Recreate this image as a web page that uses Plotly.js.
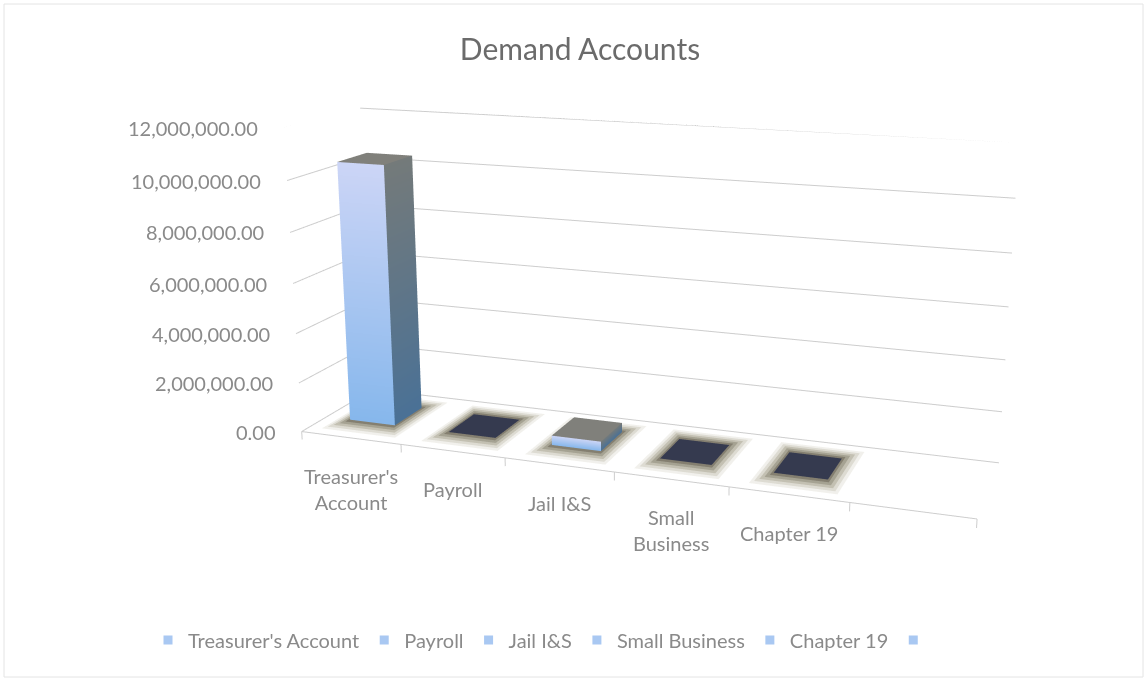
<!DOCTYPE html>
<html>
<head>
<meta charset="utf-8">
<script src="https://cdn.plot.ly/plotly-3.0.1.min.js"></script>
<style>
html,body{margin:0;padding:0;width:1147px;height:680px;overflow:hidden;background:#fff}
#chart{position:absolute;left:0;top:-347px;width:1280px;height:1305px}
</style>
</head>
<body>
<div id="chart"></div>
<script>
const categories = ["Treasurer's Account", "Payroll", "Jail I&S", "Small Business", "Chapter 19"];
const categoryLabels = ["Treasurer's<br>Account", "Payroll", "Jail I&S", "Small<br>Business", "Chapter 19"];
const values = [10500000, 0, 450000, 0, 0];
const tickValues = [0, 2000000, 4000000, 6000000, 8000000, 10000000, 12000000];
const tickLabels = ["0.00", "2,000,000.00", "4,000,000.00", "6,000,000.00", "8,000,000.00", "10,000,000.00", "12,000,000.00"];
const legendNames = ["Treasurer's Account", "Payroll", "Jail I&S", "Small Business", "Chapter 19", " "];

const W = 1280, H = 1305, TOP = 347;
const px = x => x / W;
const py = y => 1 - (y + TOP) / H;

const slotCount = 6;
const gridColor = '#cdcdcd';
const textColor = '#8a8a8a';
const font = 'Lato, "Open Sans", sans-serif';
const ringColors = ['#f1f0ec', '#dddbd2', '#c3c0b2', '#a5a292', '#847f70'];
const ringHalfX = [0.37, 0.34, 0.31, 0.28, 0.25];
const ringHalfY = [0.40, 0.36, 0.32, 0.28, 0.24];
const zStep = 12000;
const barHalfX = 0.23, barHalfY = 0.2;

function meshOf(quads, name) {
  const m = {type: 'mesh3d', name, x: [], y: [], z: [], i: [], j: [], k: [], vertexcolor: [],
    flatshading: true, hoverinfo: 'skip', showlegend: false, showscale: false,
    lighting: {ambient: 1, diffuse: 0, specular: 0, roughness: 1, fresnel: 0}};
  quads.forEach(q => {
    const b = m.x.length;
    q.forEach(v => { m.x.push(v[0]); m.y.push(v[1]); m.z.push(v[2]); m.vertexcolor.push(v[3]); });
    m.i.push(b, b); m.j.push(b + 1, b + 2); m.k.push(b + 2, b + 3);
  });
  return m;
}

const traces = [];

// walls and floor lines
const lx = [], ly = [], lz = [];
tickValues.forEach(t => { lx.push(0, 0, slotCount, null); ly.push(0, 1, 1, null); lz.push(t, t, t, null); });
lx.push(0, slotCount, null); ly.push(0, 0, null); lz.push(0, 0, null);
for (let s = 0; s <= slotCount; s++) { lx.push(s, s, null); ly.push(0, 0, null); lz.push(0, -330000, null); }
traces.push({type: 'scatter3d', mode: 'lines', x: lx, y: ly, z: lz, connectgaps: false,
  line: {color: gridColor, width: 2}, hoverinfo: 'skip', showlegend: false});

// bars with their soft floor shadow
categories.forEach((name, n) => {
  const c = n + 0.5, yc = 0.5, quads = [];
  ringColors.forEach((col, r) => {
    const hx = ringHalfX[r], hy = ringHalfY[r], z = zStep * (r + 1);
    quads.push([[c - hx, yc - hy, z, col], [c + hx, yc - hy, z, col], [c + hx, yc + hy, z, col], [c - hx, yc + hy, z, col]]);
  });
  const x0 = c - barHalfX, x1 = c + barHalfX, y0 = yc - barHalfY, y1 = yc + barHalfY;
  const zb = zStep * (ringColors.length + 1);
  const v = values[n];
  if (v === 0) {
    const d = '#353a4f';
    quads.push([[x0, y0, zb, d], [x1, y0, zb, d], [x1, y1, zb, d], [x0, y1, zb, d]]);
  } else {
    const f0 = '#86b7ec', f1 = '#ccd5f6', s0 = '#4a7196', s1 = '#747a7a', t = '#80807b';
    quads.push([[x0, y0, zb, f0], [x1, y0, zb, f0], [x1, y0, v, f1], [x0, y0, v, f1]]);
    quads.push([[x1, y0, zb, s0], [x1, y1, zb, s0], [x1, y1, v, s1], [x1, y0, v, s1]]);
    quads.push([[x0, y0, v, t], [x1, y0, v, t], [x1, y1, v, t], [x0, y1, v, t]]);
  }
  traces.push(meshOf(quads, name));
});

// legend entries
legendNames.forEach(name => {
  traces.push({type: 'scatter', mode: 'markers', x: [null], y: [null], name,
    marker: {symbol: 'square', size: 9, color: '#a9c8f2'}, hoverinfo: 'skip'});
});

const annotations = [];
tickValues.forEach((t, n) => annotations.push({x: 0, y: 0, z: t, text: tickLabels[n], showarrow: false,
  xanchor: 'right', yanchor: 'middle', xshift: -24, font: {family: font, size: 20, color: textColor}}));
categoryLabels.forEach((t, n) => annotations.push({x: n + 0.5, y: 0, z: 0, text: t, showarrow: false,
  xanchor: 'center', yanchor: 'top', yshift: -24, font: {family: font, size: 20, color: textColor}}));

const hiddenAxis = {visible: false, showgrid: false, zeroline: false, showspikes: false, showbackground: false};

const layout = {
  width: W, height: H,
  margin: {l: 0, r: 0, t: 0, b: 0},
  paper_bgcolor: '#ffffff', plot_bgcolor: 'rgba(0,0,0,0)',
  title: {text: 'Demand Accounts', x: px(580), y: py(49), xref: 'paper', yref: 'paper', xanchor: 'center', yanchor: 'middle',
    font: {family: font, size: 30, color: '#6b6b6b'}},
  xaxis: {visible: false, range: [0, 1], fixedrange: true},
  yaxis: {visible: false, range: [0, 1], fixedrange: true},
  showlegend: true,
  legend: {orientation: 'h', x: px(148), y: py(640), xanchor: 'left', yanchor: 'middle', font: {family: font, size: 20, color: textColor},
    bgcolor: 'rgba(0,0,0,0)', itemclick: false, itemdoubleclick: false},
  shapes: [{type: 'rect', xref: 'paper', yref: 'paper', x0: px(4), x1: px(1143), y0: py(4), y1: py(677), line: {color: '#e4e4e4', width: 1}}],
  scene: {
    domain: {x: [0, 1], y: [0, 1]},
    bgcolor: 'rgba(0,0,0,0)',
    aspectmode: 'manual',
    aspectratio: {x: 1, y: 0.2175, z: 0.47985},
    camera: {
      eye: {x: 0.729, y: -2.038, z: 0.5718},
      center: {x: -0.002, y: 0.003, z: -0.0051},
      up: {x: 0, y: 0, z: 1},
      projection: {type: 'perspective'}
    },
    xaxis: Object.assign({range: [0, slotCount]}, hiddenAxis),
    yaxis: Object.assign({range: [0, 1]}, hiddenAxis),
    zaxis: Object.assign({range: [-600000, 12000000]}, hiddenAxis),
    annotations
  }
};

Plotly.newPlot('chart', traces, layout, {displayModeBar: false, responsive: false});
</script>
</body>
</html>
